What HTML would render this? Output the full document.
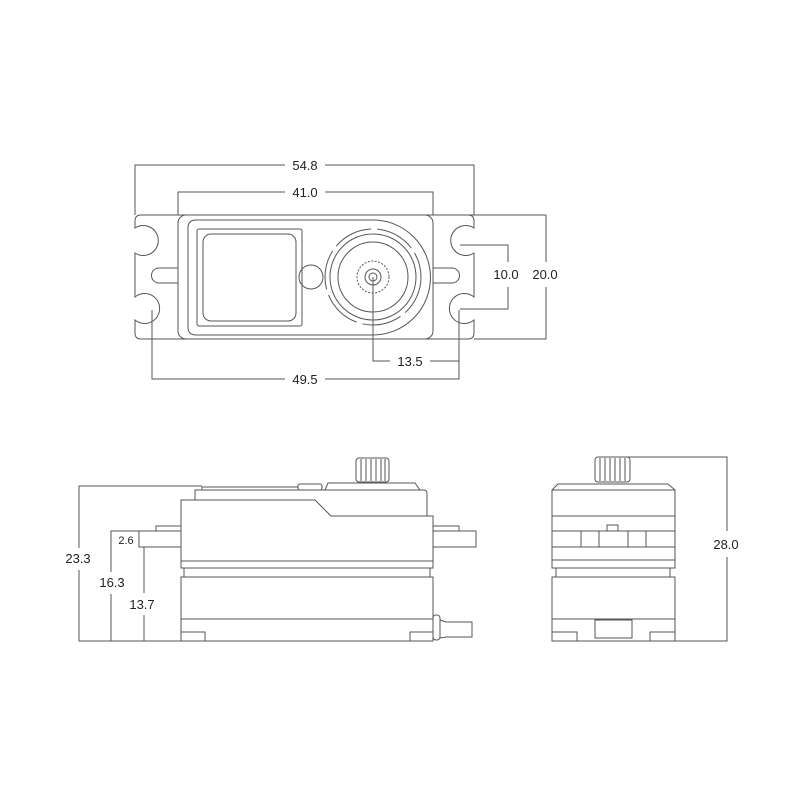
<!DOCTYPE html>
<html><head><meta charset="utf-8"><style>html,body{margin:0;padding:0;background:#fff}svg{display:block}</style></head><body>
<svg width="800" height="800" viewBox="0 0 800 800" xmlns="http://www.w3.org/2000/svg">
<g fill="none" stroke="#555" stroke-width="1">
<!-- TOP VIEW flange -->
<path d="M141 215 H468 Q474 215 474 221 V228 A15 15 0 1 0 474 253 V297 A15 15 0 1 0 474 320 V333 Q474 339 468 339 H141 Q135 339 135 333 V320 A15 15 0 1 0 135 297 V253 A15 15 0 1 0 135 228 V221 Q135 215 141 215 Z"/>
<path d="M178 268 H159 A7 7 0 0 0 159 283 H178"/>
<path d="M433 268 H452 A7 7 0 0 1 452 283 H433"/>
<rect x="178" y="215" width="255" height="124" rx="8"/>
<path d="M196 220 H373 A57.5 57.5 0 0 1 373 335 H196 Q188 335 188 327 V228 Q188 220 196 220 Z"/>
<rect x="197" y="229" width="105" height="97" rx="2"/>
<rect x="203" y="234" width="93" height="87" rx="8"/>
<circle cx="311" cy="277" r="12"/>
<circle cx="373" cy="277" r="48" stroke-dasharray="40 6"/>
<circle cx="373" cy="277" r="43"/>
<circle cx="373" cy="277" r="35"/>
<circle cx="373" cy="277" r="16" stroke-dasharray="2 1.5"/>
<circle cx="373" cy="277" r="8"/>
<circle cx="373" cy="277" r="4"/>
<!-- top dims -->
<path d="M135 215 V165 H285 M325 165 H474 V215"/>
<path d="M178 215 V192 H285 M325 192 H433 V215"/>
<path d="M152 310 V379 H285 M325 379 H459 V310"/>
<path d="M373 277 V361 H390 M430 361 H459"/>
<path d="M460 245 H508 V262 M508 287 V309 H460"/>
<path d="M460 215 H546 V262 M546 287 V339 H474"/>
<!-- SIDE VIEW -->
<rect x="356" y="458" width="33" height="24" rx="3"/>
<path d="M361 459 V481 M366 459 V481 M371 459 V481 M376 459 V481 M381 459 V481 M385 459 V481"/>
<path d="M325 490 L328 483 H415 L420 490"/>
<rect x="298" y="484" width="24" height="6" rx="2"/>
<path d="M202 490 V487 H298"/>
<path d="M195 500 V490 H424 Q427 490 427 494 V516"/>
<path d="M181 561 V500 H315 L331 516 H433 V561"/>
<path d="M181 531 H139 V547 H181 M181 526 H156 V531 M433 531 H476 V547 H433 M433 526 H459 V531"/>
<rect x="181" y="561" width="252" height="7"/>
<rect x="184" y="568" width="246" height="9"/>
<rect x="181" y="577" width="252" height="64"/>
<path d="M181 619 H433"/>
<rect x="181" y="632" width="24" height="9"/>
<rect x="410" y="632" width="23" height="9"/>
<rect x="433" y="615" width="7" height="25" rx="3"/>
<path d="M440 620 L446 622 H472 V637 H446 L440 638"/>
<!-- side dims -->
<path d="M202 486 H79 V548 M79 570 V641 H181"/>
<path d="M139 531 H111 V572 M111 594 V641"/>
<path d="M144 547 V593 M144 615 V641"/>
<!-- END VIEW -->
<rect x="595" y="457" width="35" height="25" rx="3"/>
<path d="M600 458 V481 M605 458 V481 M610 458 V481 M615 458 V481 M620 458 V481 M625 458 V481"/>
<path d="M552 490 L558 484 H668 L675 490"/>
<rect x="552" y="490" width="123" height="78"/>
<path d="M552 516 H675 M552 531 H675 M552 547 H675 M552 560 H675"/>
<rect x="552" y="531" width="29" height="16"/>
<rect x="599" y="531" width="29" height="16"/>
<rect x="646" y="531" width="29" height="16"/>
<rect x="607" y="525" width="11" height="6"/>
<rect x="556" y="568" width="114" height="9"/>
<rect x="552" y="577" width="123" height="64"/>
<path d="M552 619 H675"/>
<rect x="552" y="632" width="25" height="9"/>
<rect x="650" y="632" width="25" height="9"/>
<rect x="595" y="620" width="37" height="18"/>
<path d="M617 457 H727 V531 M727 557 V641 H675"/>
</g>
<g font-family="Liberation Sans, sans-serif" font-size="13" fill="#222" text-anchor="middle">
<text x="305" y="170">54.8</text>
<text x="305" y="197">41.0</text>
<text x="305" y="384">49.5</text>
<text x="410" y="366">13.5</text>
<text x="506" y="279">10.0</text>
<text x="545" y="279">20.0</text>
<text x="78" y="563">23.3</text>
<text x="112" y="587">16.3</text>
<text x="142" y="609">13.7</text>
<text x="126" y="544" font-size="11">2.6</text>
<text x="726" y="549">28.0</text>
</g>
</svg>
</body></html>
